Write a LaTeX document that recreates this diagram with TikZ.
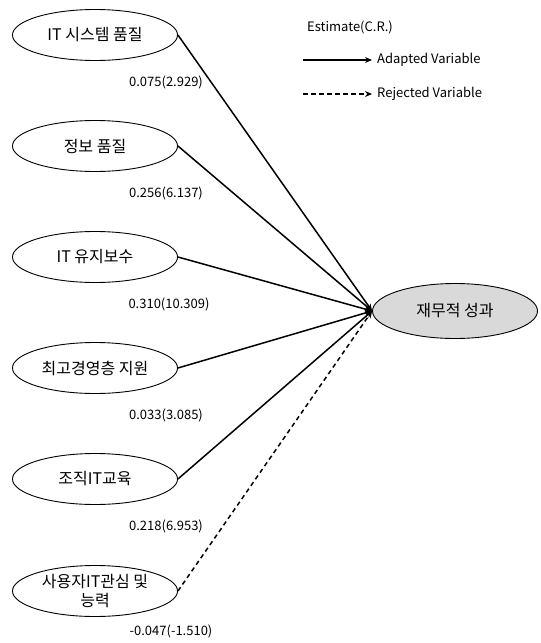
\documentclass[tikz,border=0pt]{standalone}
\usepackage{fontspec}
\setmainfont{Noto Sans CJK KR}
\usetikzlibrary{shapes.geometric,arrows.meta}
\tikzset{
  var/.style={ellipse,draw,line width=0.9pt,minimum width=165pt,minimum height=51pt,inner sep=0pt,font=\fontsize{16}{20}\selectfont,align=center},
  target/.style={var,fill=gray!30,minimum height=55pt},
  coef/.style={font=\fontsize{13}{15}\selectfont,inner sep=0pt},
  legtxt/.style={font=\fontsize{13}{15}\selectfont,inner sep=0pt,anchor=west},
  adapted/.style={line width=1.5pt,-{Stealth[length=7pt,width=6pt]}},
  rejected/.style={line width=1.5pt,dashed,dash pattern=on 4.5pt off 3.5pt,-{Stealth[length=7pt,width=6pt]}},
}
\begin{document}
\begin{tikzpicture}[x=1pt,y=-1pt]
\useasboundingbox (0,0) rectangle (541,643);
\node[var] (v1) at (95,35) {IT 시스템 품질};
\node[var] (v2) at (95,146) {정보 품질};
\node[var] (v3) at (95,257) {IT 유지보수};
\node[var] (v4) at (95,368) {최고경영층 지원};
\node[var] (v5) at (95,479) {조직IT교육};
\node[var] (v6) at (95,591) {사용자IT관심 및\\[-1pt]능력};
\node[target] (t) at (455,311) {재무적 성과};
\node[coef] (c1) at (166,82) {0.075(2.929)};
\node[coef] (c2) at (166,193) {0.256(6.137)};
\node[coef] (c3) at (169,304) {0.310(10.309)};
\node[coef] (c4) at (166,415) {0.033(3.085)};
\node[coef] (c5) at (166,526) {0.218(6.953)};
\node[coef] (c6) at (171,631) {-0.047(-1.510)};
\draw[adapted] (v1.east) -- (t.west);
\draw[adapted] (v2.east) -- (t.west);
\draw[adapted] (v3.east) -- (t.west);
\draw[adapted] (v4.east) -- (t.west);
\draw[adapted] (v5.east) -- (t.west);
\draw[rejected] (v6.east) -- (t.west);
\node[legtxt] (lt) at (307,27) {Estimate(C.R.)};
\coordinate (a1) at (303,60);
\coordinate (a2) at (372,60);
\coordinate (r1) at (303,94);
\coordinate (r2) at (372,94);
\draw[adapted] (a1) -- (a2);
\draw[rejected] (r1) -- (r2);
\node[legtxt] (la) at (377,60) {Adapted Variable};
\node[legtxt] (lr) at (377,94) {Rejected Variable};
\end{tikzpicture}
\end{document}
